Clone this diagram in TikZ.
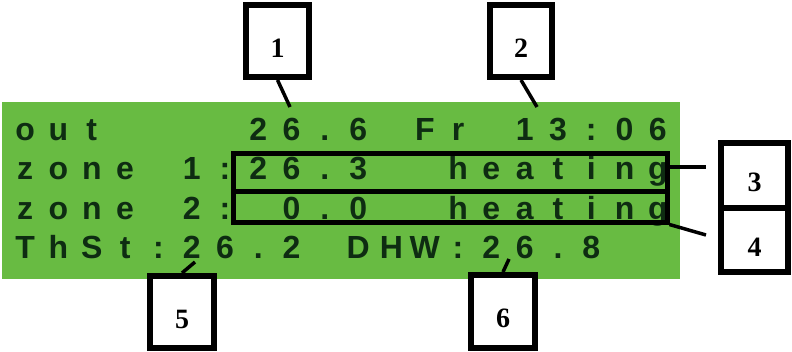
\documentclass[tikz,border=0pt]{standalone}
\usepackage{fontspec}
\setmainfont{Liberation Serif}
\newfontfamily\lcdfont{Liberation Sans}
\usepackage{tikz}
\usetikzlibrary{positioning,calc}
\definecolor{lcdgreen}{RGB}{104,187,66}
\definecolor{lcdtext}{RGB}{14,44,18}
\newlength\lcdpitch
\setlength\lcdpitch{33.3pt}
% one LCD character per fixed cell
\ExplSyntaxOn
\NewDocumentCommand \lcdrow { m }
  { \tl_map_inline:nn {#1} { \makebox[\lcdpitch]{##1} } }
\ExplSyntaxOff
\tikzset{
  panel/.style={fill=lcdgreen, inner sep=0pt},
  lcdline/.style={anchor=base west, inner sep=0pt, text=lcdtext,
                  font=\lcdfont\bfseries\fontsize{32}{32}\selectfont},
  zonebox/.style={draw=black, line width=5pt, inner sep=0pt},
  numbox/.style={draw=black, line width=6pt, fill=white, inner sep=0pt,
                 font=\bfseries\fontsize{28}{28}\selectfont,
                 text height=32pt, text depth=0pt},
  lead/.style={line width=3.5pt, black}
}

\begin{document}
\begin{tikzpicture}[x=1pt, y=-1pt]
    \useasboundingbox (0,0) rectangle (792,351);
    \node[panel, minimum width=678, minimum height=177] (lcd) at (341,190.5) {};
    % display rows
    \node[lcdline] (row1) at (8.35,140) {\lcdrow{out~~~~26.6~Fr~13:06}};
    \node[lcdline] (row2) at (8.35,179.5) {\lcdrow{zone~1:26.3~~heating}};
    \node[lcdline] (row3) at (8.35,219) {\lcdrow{zone~2:~0.0~~heating}};
    \node[lcdline] (row4) at (8.35,258) {\lcdrow{ThSt:26.2~DHW:26.8}};
    \node[zonebox, minimum width=434, minimum height=38] (r1) at (450,172) {};
    \node[zonebox, minimum width=434, minimum height=31] (r2) at (450,206.5) {};
    % callouts
    \coordinate (p1) at (290,107);
    \coordinate (p2) at (537,107);
    \coordinate (p3) at (706,167);
    \coordinate (p4) at (706,235);
    \coordinate (p5) at (195,262);
    \coordinate (p6) at (509,259);
    \node[numbox, minimum width=63, minimum height=72] (b1) at (277.5,41) {1};
    \node[numbox, minimum width=62, minimum height=72] (b2) at (521,41) {2};
    \node[numbox, minimum width=67, minimum height=65] (b3) at (754.5,175.5) {3};
    \node[numbox, minimum width=67, minimum height=64] (b4) at (754.5,240) {4};
    \node[numbox, minimum width=64, minimum height=72] (b5) at (182,312) {5};
    \node[numbox, minimum width=64, minimum height=73] (b6) at (503,311.5) {6};
    \draw[lead] (b1.south) -- (p1);
    \draw[lead] (b2.south) -- (p2);
    \draw[lead] (r1.east |- p3) -- (p3);
    \draw[lead] (r2.south east) -- (p4);
    \draw[lead] (b5.north) -- (p5);
    \draw[lead] (b6.north) -- (p6);
\end{tikzpicture}
\end{document}
